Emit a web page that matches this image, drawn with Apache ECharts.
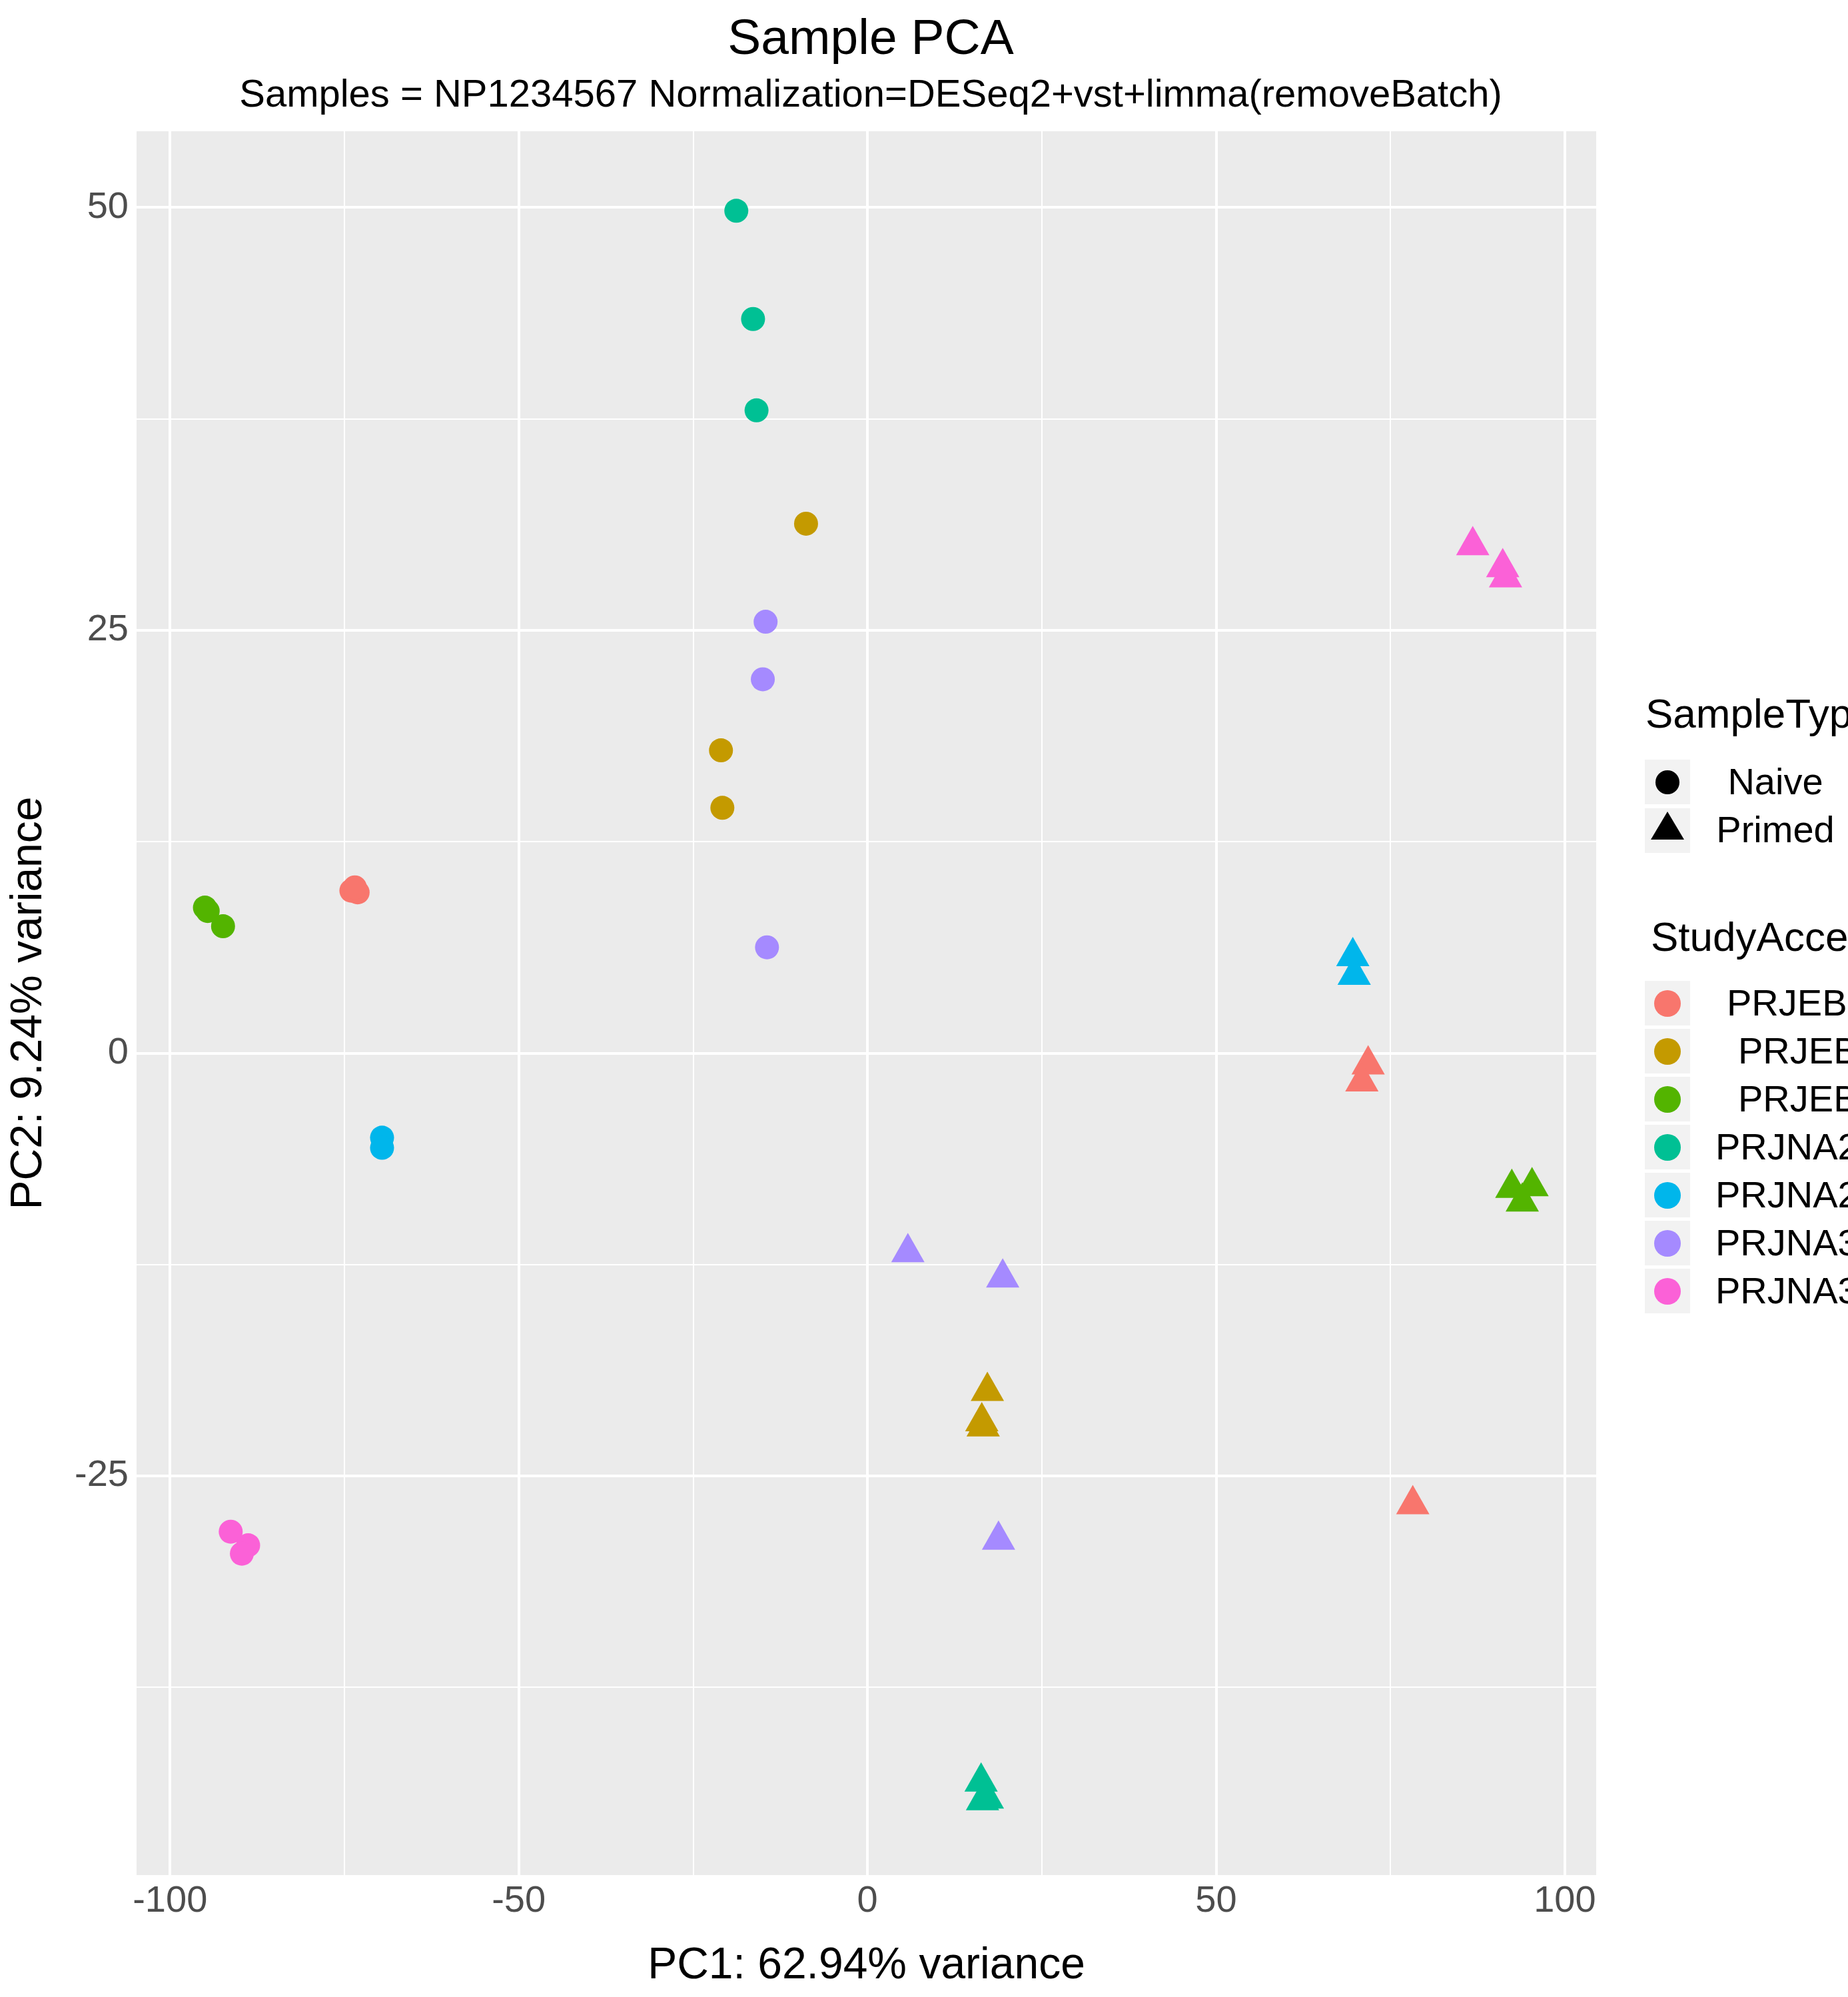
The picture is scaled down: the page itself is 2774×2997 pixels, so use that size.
<!DOCTYPE html>
<html><head><meta charset="utf-8">
<script src="https://cdn.jsdelivr.net/npm/echarts@6/dist/echarts.min.js"></script>
<style>html,body{margin:0;padding:0;background:#fff}#c{width:2774px;height:2997px}</style>
</head><body><div id="c"></div>
<script>
const studies = ['PRJEB1', 'PRJEB2', 'PRJEB3', 'PRJNA2a', 'PRJNA2b', 'PRJNA3a', 'PRJNA3b'];
const studyLabels = ['PRJEB1xxxx', 'PRJEB2xxx', 'PRJEB3xxx', 'PRJNA2xxxxx', 'PRJNA2yyyyy', 'PRJNA3xxxxx', 'PRJNA3yyyyy'];
const colors = ['#F8766D', '#C49A00', '#53B400', '#00C094', '#00B6EB', '#A58AFF', '#FB61D7'];
// [PC1, PC2, type] type: 0 Naive, 1 Primed
const PRJEB1 = [[-74.0,9.6,0],[-73.1,9.5,0],[-73.5,9.8,0],[71.8,-0.4,1],[70.9,-1.4,1],[78.2,-26.4,1]];
const PRJEB2 = [[-8.8,31.3,0],[-21.0,17.9,0],[-20.8,14.5,0],[17.2,-19.7,1],[16.4,-21.5,1],[16.6,-21.8,1]];
const PRJEB3 = [[-95.0,8.6,0],[-94.6,8.4,0],[-92.4,7.5,0],[92.4,-7.7,1],[95.3,-7.6,1],[93.9,-8.5,1]];
const PRJNA2a = [[-18.8,49.8,0],[-16.4,43.4,0],[-15.9,38.0,0],[16.3,-42.8,1],[17.2,-43.8,1],[16.5,-43.9,1]];
const PRJNA2b = [[-69.6,-5.0,0],[-69.6,-5.6,0],[69.6,6.0,1],[69.8,4.9,1]];
const PRJNA3a = [[-14.6,25.5,0],[-15.0,22.1,0],[-14.4,6.25,0],[5.8,-11.5,1],[19.4,-13.0,1],[18.8,-28.5,1]];
const PRJNA3b = [[-91.3,-28.3,0],[-88.8,-29.1,0],[-89.7,-29.6,0],[86.8,30.3,1],[91.1,29.0,1],[91.5,28.4,1]];
const seriesData = [PRJEB1, PRJEB2, PRJEB3, PRJNA2a, PRJNA2b, PRJNA3a, PRJNA3b];
const xMajor = [-100, -50, 0, 50, 100];
const xMinor = [-75, -25, 25, 75];
const yMajor = [-25, 0, 25, 50];
const yMinor = [-37.5, -12.5, 12.5, 37.5];

const F = 'Liberation Sans, Arial, sans-serif';
const chart = echarts.init(document.getElementById('c'), null, {renderer: 'canvas'});
const gridLines = [];
xMinor.forEach(v => gridLines.push({xAxis: v, lineStyle: {width: 2}}));
yMinor.forEach(v => gridLines.push({yAxis: v, lineStyle: {width: 2}}));
xMajor.forEach(v => gridLines.push({xAxis: v, lineStyle: {width: 4}}));
yMajor.forEach(v => gridLines.push({yAxis: v, lineStyle: {width: 4}}));

const series = [{
  type: 'scatter', data: [], silent: true,
  markLine: {silent: true, symbol: 'none', label: {show: false}, animation: false,
    lineStyle: {color: '#fff', type: 'solid'}, emphasis: {disabled: true}, data: gridLines}
}];
seriesData.forEach((d, i) => series.push({
  type: 'scatter', name: studies[i], data: d,
  symbol: (v) => v[2] === 1 ? 'triangle' : 'circle',
  symbolSize: (v) => v[2] === 1 ? [50, 44] : 36,
  itemStyle: {color: colors[i], opacity: 1},
  animation: false, z: 5
}));

const graphic = [];
const keyBox = (y) => graphic.push({type: 'rect', shape: {x: 2469, y: y, width: 68, height: 67}, style: {fill: '#F2F2F2'}});
graphic.push({type: 'text', x: 2470, y: 1075, style: {text: 'SampleType', font: '62px ' + F, fill: '#000', verticalAlign: 'middle'}});
keyBox(1140); keyBox(1213);
graphic.push({type: 'circle', shape: {cx: 2503, cy: 1174, r: 18}, style: {fill: '#000'}});
graphic.push({type: 'polygon', shape: {points: [[2478, 1260], [2528, 1260], [2503, 1218]]}, style: {fill: '#000'}});
graphic.push({type: 'text', x: 2665, y: 1177, style: {text: 'Naive', font: '56px ' + F, fill: '#000', align: 'center', verticalAlign: 'middle'}});
graphic.push({type: 'text', x: 2665, y: 1249, style: {text: 'Primed', font: '56px ' + F, fill: '#000', align: 'center', verticalAlign: 'middle'}});
graphic.push({type: 'text', x: 2478, y: 1410, style: {text: 'StudyAccession', font: '62px ' + F, fill: '#000', verticalAlign: 'middle'}});
const starts = [2592, 2609, 2609, 2575, 2575, 2575, 2575];
studies.forEach((s, i) => {
  const y = 1472 + i * 72;
  keyBox(y);
  graphic.push({type: 'circle', shape: {cx: 2503, cy: y + 34, r: 20}, style: {fill: colors[i]}});
  graphic.push({type: 'text', x: starts[i], y: y + 37, style: {text: studyLabels[i], font: '56px ' + F, fill: '#000', verticalAlign: 'middle'}});
});

chart.setOption({
  backgroundColor: '#fff',
  animation: false,
  title: [
    {text: 'Sample PCA', left: 1302, top: 18, textAlign: 'center', textStyle: {fontFamily: F, fontWeight: 'normal', fontSize: 75, color: '#000'}},
    {text: 'Samples = NP1234567 Normalization=DESeq2+vst+limma(removeBatch)', left: 1302, top: 110, textAlign: 'center', textStyle: {fontFamily: F, fontWeight: 'normal', fontSize: 58, color: '#000'}}
  ],
  grid: {left: 205, right: 378, top: 197, bottom: 183, show: true, backgroundColor: '#EBEBEB', borderWidth: 0},
  xAxis: {type: 'value', min: -104.8, max: 104.5, name: 'PC1: 62.94% variance', nameLocation: 'middle', nameGap: 104,
    nameTextStyle: {fontFamily: F, fontSize: 66, color: '#000'},
    axisLine: {show: false}, splitLine: {show: false},
    axisTick: {show: true, customValues: xMajor, length: 10, lineStyle: {color: '#333', width: 3}},
    axisLabel: {customValues: xMajor, fontFamily: F, fontSize: 56, color: '#4D4D4D', margin: 12}},
  yAxis: {type: 'value', min: -48.6, max: 54.5, name: 'PC2: 9.24% variance', nameLocation: 'middle', nameGap: 128,
    nameTextStyle: {fontFamily: F, fontSize: 66, color: '#000'},
    axisLine: {show: false}, splitLine: {show: false},
    axisTick: {show: true, customValues: yMajor, length: 10, lineStyle: {color: '#333', width: 3}},
    axisLabel: {customValues: yMajor, fontFamily: F, fontSize: 56, color: '#4D4D4D', margin: 12}},
  series: series,
  graphic: graphic
});
</script></body></html>
